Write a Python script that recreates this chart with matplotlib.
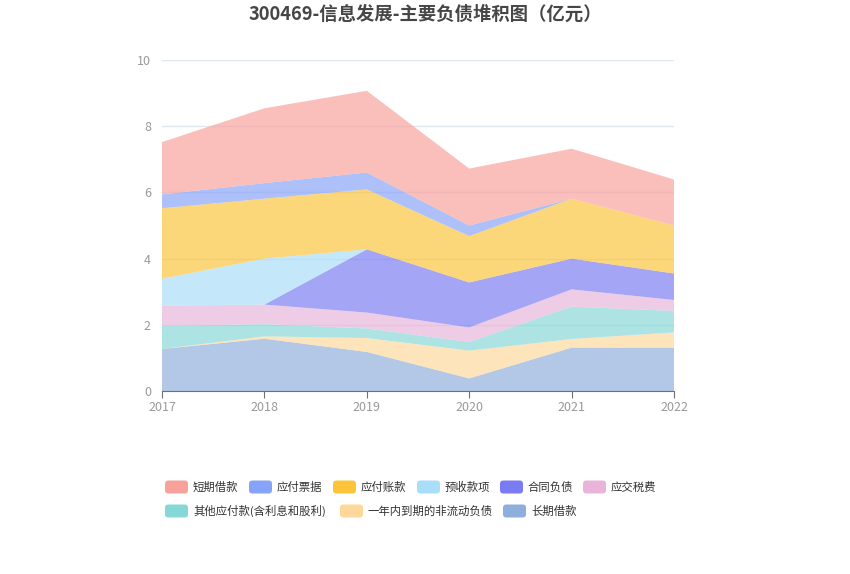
import matplotlib
matplotlib.use("Agg")
import matplotlib.pyplot as plt
from matplotlib.patches import FancyBboxPatch

plt.rcParams['font.family'] = ['Noto Sans CJK SC', 'DejaVu Sans']

years = [2017, 2018, 2019, 2020, 2021, 2022]
series_names = ['长期借款', '一年内到期的非流动负债', '其他应付款(含利息和股利)', '应交税费',
                '合同负债', '预收款项', '应付账款', '应付票据', '短期借款']
long_loan = [1.27, 1.58, 1.18, 0.38, 1.31, 1.31]
current_noncurrent = [0.00, 0.07, 0.42, 0.84, 0.26, 0.46]
other_payable = [0.70, 0.37, 0.29, 0.26, 0.98, 0.65]
tax_payable = [0.61, 0.59, 0.48, 0.44, 0.52, 0.33]
contract_liab = [0.00, 0.00, 1.91, 1.36, 0.93, 0.80]
advance_recv = [0.81, 1.39, 0.00, 0.00, 0.00, 0.00]
accounts_payable = [2.13, 1.81, 1.81, 1.40, 1.81, 1.45]
notes_payable = [0.42, 0.47, 0.51, 0.32, 0.00, 0.00]
short_loan = [1.58, 2.26, 2.47, 1.72, 1.51, 1.39]

colors = {
    '短期借款': '#f8a19a',
    '应付票据': '#86a3f8',
    '应付账款': '#fbc43a',
    '预收款项': '#a9def9',
    '合同负债': '#7a7bf2',
    '应交税费': '#e8b4d9',
    '其他应付款(含利息和股利)': '#86d7d7',
    '一年内到期的非流动负债': '#fdd89a',
    '长期借款': '#8eaedb',
}
data = [long_loan, current_noncurrent, other_payable, tax_payable, contract_liab,
        advance_recv, accounts_payable, notes_payable, short_loan]

fig = plt.figure(figsize=(8.5, 5.74), dpi=100)
ax = fig.add_axes([162/850, 1-391/574, (674-162)/850, (391-60)/574])

ax.stackplot(years, *data, colors=[colors[n] for n in series_names], alpha=0.68,
             linewidth=0)

ax.set_xlim(2017, 2022)
ax.set_ylim(0, 10)
ax.set_yticks([0, 2, 4, 6, 8, 10])
ax.set_xticks(years)
ax.grid(axis='y', color='#e0e6f1', linewidth=1)
ax.set_axisbelow(True)
for s in ['top', 'right', 'left']:
    ax.spines[s].set_visible(False)
ax.spines['bottom'].set_color('#6e7079')
ax.tick_params(axis='y', length=0, labelsize=9, labelcolor='#999999', pad=8)
ax.tick_params(axis='x', length=5, color='#6e7079', labelsize=9, labelcolor='#999999', pad=2)

fig.text(0.5, 1-14/574, '300469-信息发展-主要负债堆积图（亿元）', ha='center', va='center',
         fontsize=13.2, fontweight='bold', color='#464646')

legend_items = [
    ('短期借款', 165, 487), ('应付票据', 249, 487), ('应付账款', 333, 487),
    ('预收款项', 417, 487), ('合同负债', 500, 487), ('应交税费', 583, 487),
    ('其他应付款(含利息和股利)', 165, 511), ('一年内到期的非流动负债', 340, 511),
    ('长期借款', 503, 511),
]
W, H = 850, 574
for name, x, y in legend_items:
    p = FancyBboxPatch(((x)/W, 1-(y+6.5)/H), 23/W, 13/H,
                       boxstyle='round,pad=0,rounding_size=0.004',
                       transform=fig.transFigure, facecolor=colors[name],
                       edgecolor='none', mutation_aspect=W/H)
    fig.patches.append(p)
    fig.text((x+28)/W, 1-y/H, name, ha='left', va='center', fontsize=8.2, color='#333333')

fig.savefig('out.png', dpi=100)
